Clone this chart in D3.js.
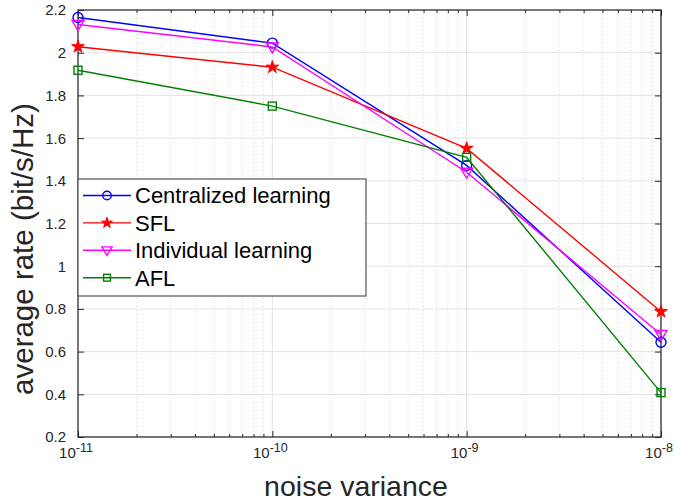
<!DOCTYPE html>
<html>
<head>
<meta charset="utf-8">
<script src="https://cdn.jsdelivr.net/npm/d3@7"></script>
<style>
  body { margin: 0; background: #fff; }
  text { font-family: "Liberation Sans", Arial, sans-serif; }
</style>
</head>
<body>
<svg id="chart" width="675" height="501"></svg>
<script>
// noise variance values (x) and average rate per method (y)
var noiseVar = [1e-11, 1e-10, 1e-9, 1e-8];
var centralized = [2.165, 2.045, 1.472, 0.644];
var sfl = [2.028, 1.932, 1.552, 0.787];
var individual = [2.132, 2.027, 1.440, 0.680];
var afl = [1.918, 1.750, 1.510, 0.408];

var seriesNames = ["Centralized learning", "SFL", "Individual learning", "AFL"];
var yTicks = [0.2, 0.4, 0.6, 0.8, 1, 1.2, 1.4, 1.6, 1.8, 2, 2.2];
var xTickExp = ["-11", "-10", "-9", "-8"];

var svg = d3.select("#chart");
var pLeft = 78, pRight = 661, pTop = 10, pBottom = 437;
var axisCol = "#262626";

var x = d3.scaleLog().domain([1e-11, 1e-8]).range([pLeft, pRight]);
var y = d3.scaleLinear().domain([0.2, 2.2]).range([pBottom, pTop]);

// minor decade ticks 2..9
var minor = [];
[1e-11, 1e-10, 1e-9].forEach(function(d) {
	for (var k = 2; k <= 9; k++) minor.push(d * k);
});

var series = [
	{name: seriesNames[0], vals: centralized, color: "#0000ff", marker: "circle"},
	{name: seriesNames[1], vals: sfl, color: "#ff0000", marker: "star"},
	{name: seriesNames[2], vals: individual, color: "#ff00ff", marker: "tri"},
	{name: seriesNames[3], vals: afl, color: "#008000", marker: "square"}
];

// grid
var grid = svg.append("g");
grid.selectAll("line.minor").data(minor).enter().append("line")
	.attr("x1", function(d) { return x(d); }).attr("x2", function(d) { return x(d); })
	.attr("y1", pTop).attr("y2", pBottom)
	.attr("stroke", "#cfcfcf").attr("stroke-width", 1).attr("stroke-dasharray", "1,3");
grid.selectAll("line.vmaj").data(noiseVar).enter().append("line")
	.attr("x1", function(d) { return x(d); }).attr("x2", function(d) { return x(d); })
	.attr("y1", pTop).attr("y2", pBottom)
	.attr("stroke", "#e3e3e3").attr("stroke-width", 1);
grid.selectAll("line.hmaj").data(yTicks).enter().append("line")
	.attr("x1", pLeft).attr("x2", pRight)
	.attr("y1", function(d) { return y(d); }).attr("y2", function(d) { return y(d); })
	.attr("stroke", "#e3e3e3").attr("stroke-width", 1);

// axes (ticks pointing inward)
function styleAxis(g) {
	g.select(".domain").remove();
	g.selectAll(".tick line").attr("stroke", axisCol);
}
svg.append("g").attr("transform", "translate(0," + pBottom + ")")
	.call(d3.axisBottom(x).tickValues(noiseVar).tickSize(-6).tickFormat("")).call(styleAxis);
svg.append("g").attr("transform", "translate(0," + pBottom + ")")
	.call(d3.axisBottom(x).tickValues(minor).tickSize(-3).tickFormat("")).call(styleAxis);
svg.append("g").attr("transform", "translate(0," + pTop + ")")
	.call(d3.axisTop(x).tickValues(noiseVar).tickSize(-6).tickFormat("")).call(styleAxis);
svg.append("g").attr("transform", "translate(0," + pTop + ")")
	.call(d3.axisTop(x).tickValues(minor).tickSize(-3).tickFormat("")).call(styleAxis);
svg.append("g").attr("transform", "translate(" + pLeft + ",0)")
	.call(d3.axisLeft(y).tickValues(yTicks).tickSize(-6).tickFormat("")).call(styleAxis);
svg.append("g").attr("transform", "translate(" + pRight + ",0)")
	.call(d3.axisRight(y).tickValues(yTicks).tickSize(-6).tickFormat("")).call(styleAxis);

// box
svg.append("rect").attr("x", pLeft).attr("y", pTop)
	.attr("width", pRight - pLeft).attr("height", pBottom - pTop)
	.attr("fill", "none").attr("stroke", axisCol).attr("stroke-width", 1.2);

// tick labels
svg.selectAll("text.ylab").data(yTicks).enter().append("text")
	.attr("x", pLeft - 12).attr("y", function(d) { return y(d); })
	.attr("dy", "0.36em").attr("text-anchor", "end")
	.attr("font-size", 15).attr("fill", axisCol)
	.text(function(d) { return String(+d.toFixed(1)); });

var xl = svg.selectAll("text.xlab").data(noiseVar).enter().append("text")
	.attr("x", function(d) { return x(d) - 2; }).attr("y", 458)
	.attr("text-anchor", "middle").attr("font-size", 15).attr("fill", axisCol);
xl.append("tspan").text("10");
xl.append("tspan").attr("dy", -6).attr("font-size", 12.5)
	.text(function(d, i) { return xTickExp[i]; });

// axis titles
svg.append("text").attr("x", 356).attr("y", 496).attr("text-anchor", "middle")
	.attr("font-size", 28.5).attr("fill", axisCol).text("noise variance");
svg.append("text").attr("transform", "translate(33,249) rotate(-90)")
	.attr("text-anchor", "middle").attr("font-size", 29.5).attr("fill", axisCol)
	.text("average rate (bit/s/Hz)");

// markers
function drawMarker(g, type, color, cx, cy, sc) {
	sc = sc || 1;
	if (type === "circle") {
		g.append("circle").attr("cx", cx).attr("cy", cy).attr("r", 5 * sc)
			.attr("fill", "none").attr("stroke", color).attr("stroke-width", 1.4);
	} else if (type === "star") {
		g.append("path").attr("d", d3.symbol().type(d3.symbolStar).size(50 * sc * sc)())
			.attr("transform", "translate(" + cx + "," + cy + ")")
			.attr("fill", color).attr("stroke", color).attr("stroke-width", 1);
	} else if (type === "tri") {
		g.append("path").attr("d", "M-6,-4L6,-4L0,6Z")
			.attr("transform", "translate(" + cx + "," + cy + ") scale(" + sc + ")")
			.attr("fill", "none").attr("stroke", color).attr("stroke-width", 1.4 / sc);
	} else {
		var h = 4 * sc;
		g.append("rect").attr("x", cx - h).attr("y", cy - h).attr("width", 2 * h).attr("height", 2 * h)
			.attr("fill", "none").attr("stroke", color).attr("stroke-width", 1.4);
	}
}

var line = d3.line()
	.x(function(d, i) { return x(noiseVar[i]); })
	.y(function(d) { return y(d); });

series.forEach(function(s) {
	var g = svg.append("g");
	g.append("path").datum(s.vals).attr("d", line)
		.attr("fill", "none").attr("stroke", s.color).attr("stroke-width", 1.4);
	s.vals.forEach(function(v, i) {
		drawMarker(g, s.marker, s.color, x(noiseVar[i]), y(v));
	});
});

// legend
var lg = svg.append("g");
lg.append("rect").attr("x", pLeft).attr("y", 179).attr("width", 366 - pLeft).attr("height", 117)
	.attr("fill", "#fff").attr("stroke", "#555").attr("stroke-width", 1.2);
series.forEach(function(s, i) {
	var ry = 195.5 + i * 27.4;
	lg.append("line").attr("x1", 83).attr("x2", 131).attr("y1", ry).attr("y2", ry)
		.attr("stroke", s.color).attr("stroke-width", 1.4);
	drawMarker(lg, s.marker, s.color, 107, ry, 0.85);
	lg.append("text").attr("x", 135).attr("y", ry).attr("dy", "0.36em")
		.attr("font-size", 22).attr("fill", "#000").text(s.name);
});
</script>
</body>
</html>
